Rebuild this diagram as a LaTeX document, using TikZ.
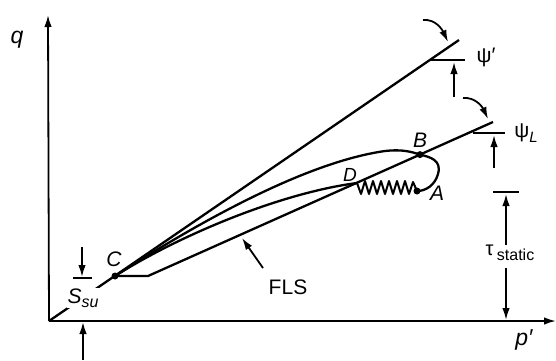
\documentclass[tikz,border=0pt]{standalone}
\usepackage{fontspec}
\setmainfont{Liberation Sans}
\usetikzlibrary{arrows.meta}
\begin{document}
\begin{tikzpicture}[x=1pt,y=-1pt,
  thick line/.style={line width=2.3pt, line join=round},
  arr/.style={line width=1.8pt,-{Latex[length=12pt,width=7.5pt]}},
  bar/.style={line width=1.8pt},
  lbl/.style={font=\fontsize{21}{21}\selectfont\itshape, inner sep=0pt},
  dot/.style={circle,fill,inner sep=0pt,minimum size=7pt}]
\useasboundingbox (0,0) rectangle (556,360);
% axes
\coordinate (O) at (49,321);
\coordinate (qtip) at (48,15);
\coordinate (ptip) at (556,321);
\draw[arr] (O) -- (qtip);
\draw[arr] (O) -- (ptip);
\node[lbl, font=\fontsize{23}{23}\selectfont\itshape] (qlab) at (17,40) {q};
\node[lbl, font=\fontsize{23}{23}\selectfont\itshape] (plab) at (524,340) {p′};
% key points
\coordinate (C) at (115,276);
\coordinate (K) at (148,276);
\coordinate (D) at (357,183);
\coordinate (B) at (420,154.6);
\coordinate (A) at (417,191);
\coordinate (Pend) at (459,40);
\coordinate (Lend) at (493,122);
% psi' line through origin and C
\draw[thick line] (O) -- (Pend);
% FLS / psi_L line
\draw[thick line] (C) -- (K) -- (Lend);
% monotonic path A-B-C
\draw[thick line] (C) .. controls (185,231) and (300,163) .. (385,151)
  .. controls (403,149) and (412,152) .. (B)
  .. controls (430,157) and (442,160) .. (438,174)
  .. controls (435,185) and (426,191) .. (A);
% flow path D-C
\draw[thick line] (C) .. controls (178,236) and (280,193) .. (D);
% cyclic zigzag D-A
\draw[line width=2pt, line join=round] (D) -- (361,194) -- (365,181) -- (369,194) -- (373,181)
  -- (377,194) -- (381,181) -- (385,194) -- (389,181) -- (393,194) -- (397,181)
  -- (401,194) -- (405,181) -- (409,194) -- (413,182) -- (A);
% dots
\node[dot] (Cdot) at (C) {};
\node[dot] (Bdot) at (B) {};
\node[dot] (Adot) at (A) {};
% point labels
\node[lbl] (Clab) at (114,259) {C};
\node[lbl] (Blab) at (420,140) {B};
\node[lbl] (Alab) at (437,193) {A};
\node[lbl, font=\fontsize{19}{19}\selectfont\itshape] (Dlab) at (350,175) {D};
% S_su
\node[lbl, fill=white, inner sep=1pt] (Ssu) at (83,298)
  {S\raisebox{-4pt}{\fontsize{16}{16}\selectfont\itshape su}};
\coordinate (Sa1) at (82,247);
\coordinate (Sa2) at (82,277);
\coordinate (Sb1) at (73,278);
\coordinate (Sb2) at (92,278);
\draw[arr] (Sa1) -- (Sa2);
\draw[bar] (Sb1) -- (Sb2);
\coordinate (Sc1) at (83,360);
\draw[arr] (Sc1) -- (83,322);
% psi'
\coordinate (p1a) at (430,60);
\coordinate (p1b) at (465,60);
\draw[bar] (p1a) -- (p1b);
\coordinate (p1t) at (454,97);
\draw[arr] (p1t) -- (454,62);
\coordinate (c1s) at (423,20);
\coordinate (c1e) at (448,42);
\draw[arr] (c1s) to[out=5,in=115] (c1e);
\node[inner sep=0pt, font=\fontsize{21}{21}\selectfont] (psip) at (486,57) {ψ′};
% psi_L
\coordinate (p2a) at (473,133);
\coordinate (p2b) at (505,133);
\draw[bar] (p2a) -- (p2b);
\coordinate (p2t) at (494,168);
\draw[arr] (p2t) -- (494,135);
\coordinate (c2s) at (463,98);
\coordinate (c2e) at (488,119);
\draw[arr] (c2s) to[out=5,in=115] (c2e);
\node[inner sep=0pt, font=\fontsize{21}{21}\selectfont] (psiL) at (526,133)
  {ψ\raisebox{-5pt}{\fontsize{15}{15}\selectfont\itshape L}};
% tau static
\coordinate (t1a) at (493,192);
\coordinate (t1b) at (519,192);
\draw[bar] (t1a) -- (t1b);
\coordinate (tu) at (506,245);
\coordinate (td) at (506,268);
\draw[arr] (tu) -- (506,194);
\draw[arr] (td) -- (506,320);
\node[inner sep=0pt, font=\fontsize{20}{20}\selectfont] (tau) at (510,253)
  {τ\,\raisebox{-5pt}{\fontsize{16}{16}\selectfont static}};
% FLS
\node[inner sep=0pt, font=\fontsize{21}{21}\selectfont] (FLS) at (288,287) {FLS};
\coordinate (f1) at (263,268);
\coordinate (f2) at (242,238);
\draw[arr] (f1) -- (f2);
\end{tikzpicture}
\end{document}
